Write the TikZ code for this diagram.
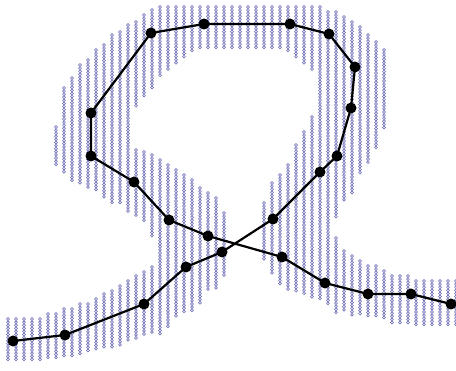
\documentclass[tikz,border=0pt]{standalone}
\usetikzlibrary{positioning}
\definecolor{chainblue}{RGB}{96,96,176}

\begin{document}
\begin{tikzpicture}[x=1pt, y=-1pt,
    dot/.style={circle, fill=black, inner sep=0pt, minimum size=11pt},
    link/.style={draw=chainblue, line width=0.5pt},
    trace/.style={line width=2.2pt, line join=round}]
  \useasboundingbox (0,0) rectangle (456,371);
  % chains of small rings, one column per x
  \foreach \x/\a/\b in {8/319/361, 16/319/361, 24/319/361, 32/319/361, 40/319/361,
      48/314/359, 56/314/359, 56/127/165, 64/309/358, 64/88/173,
      72/309/356, 72/78/182, 80/304/354, 80/65/185, 88/304/353, 88/60/188,
      96/299/351, 96/50/190, 104/294/349, 104/45/198, 112/291/348, 112/35/203,
      120/286/346, 120/32/204, 128/281/343, 128/25/213,
      136/276/341, 136/22/107, 136/150/218, 144/272/335, 144/15/97, 144/152/222,
      152/267/333, 152/10/88, 152/155/237, 160/160/335, 160/7/78,
      168/165/327, 168/7/70, 176/170/318, 176/7/63, 184/175/313, 184/7/58,
      192/180/313, 192/7/53, 200/188/303, 200/7/48, 208/193/292, 208/7/48,
      216/198/288, 216/7/48, 224/213/278, 224/7/48,
      232/7/48, 240/7/48, 248/7/48, 256/7/48,
      264/7/48, 264/203/260, 272/7/48, 272/183/275, 280/7/48, 280/175/285,
      288/7/53, 288/165/290, 296/7/58, 296/145/293, 304/7/63, 304/132/294,
      312/7/72, 312/117/299, 320/7/299, 328/12/304,
      336/12/218, 336/238/313, 344/17/203, 344/251/313, 352/22/193, 352/256/315,
      360/27/173, 360/261/316, 368/35/163, 368/266/318, 376/42/150, 376/266/316,
      384/50/130, 384/271/319, 392/276/323, 400/276/323, 408/276/323,
      416/281/326, 424/281/326, 432/281/326, 440/281/326, 448/281/326, 456/281/326} {
    \pgfmathtruncatemacro\n{(\b-\a)/3.1}
    \draw[link] foreach \k in {0,...,\n} {(\x,{\a+3.1*\k}) circle[radius=1.45]};
  }
  % sample points
  \foreach [count=\i] \px/\py in {13/341, 65/335, 144/304, 186/267, 222/252, 273/219,
      320/172, 337/156, 351/108, 355/67, 329/34, 290/24, 204/24, 151/33,
      91/113, 91/156, 134/182, 169/220, 208/236, 282/257, 325/283, 368/294,
      411/294, 451/304}
    \node[dot] (p\i) at (\px,\py) {};
  % polyline through the points
  \draw[trace] (p1.center) foreach \i in {2,...,24} {-- (p\i.center)};
\end{tikzpicture}
\end{document}
